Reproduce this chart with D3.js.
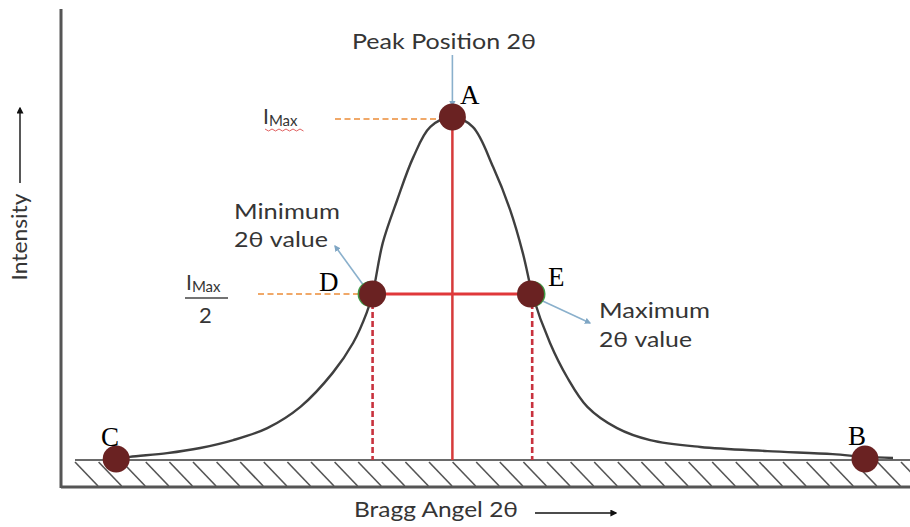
<!DOCTYPE html>
<html>
<head>
<meta charset="utf-8">
<script src="https://cdn.jsdelivr.net/npm/d3@7/dist/d3.min.js"></script>
<style>
  html, body { margin: 0; padding: 0; background: #fff; }
  svg { display: block; }
  .lbl { font-family: Lato, "Open Sans", sans-serif; fill: #353535; }
  .pt { font-family: "Liberation Serif", "DejaVu Serif", serif; fill: #000; }
</style>
</head>
<body>
<svg id="chart" width="910" height="527"></svg>
<script>
// Diffraction peak profile: Bragg angle 2θ (arbitrary units) vs. intensity (% of Imax)
const twoTheta = [6.5, 8.1, 12.5, 16.4, 20.3, 24.3, 28.2, 32.0, 34.4, 36.0, 36.7, 37.9, 39.6, 41.5, 43.5, 46.1,
                  48.5, 50.9, 52.9, 54.4, 55.2, 55.5, 57.6, 59.6, 62.0, 65.5, 69.4, 75.3, 83.2, 90.9, 94.7, 98.0];
const intensity = [0.3, 0.9, 2.0, 3.5, 5.8, 9.3, 15.5, 25.4, 34.1, 42.9, 48.4, 63.3, 75.8, 88.3, 97.1, 100,
                   97.1, 85.4, 72.9, 60.3, 51.6, 48.4, 34.1, 24.2, 15.5, 9.3, 5.8, 3.8, 2.6, 1.7, 0.9, 0.6];

// Marked points on the profile
const pointNames = ["A", "B", "C", "D", "E"];
const pointTheta = [46.1, 94.7, 6.5, 36.7, 55.3];
const pointIntensity = [100, 0.3, 0.3, 48.4, 48.4];

const peakTheta = 46.1;
const halfMax = 48.4;
const fwhmLow = 36.7, fwhmHigh = 55.5;

const svg = d3.select("#chart");
const x = d3.scaleLinear().domain([0, 100]).range([61, 910]);
const y = d3.scaleLinear().domain([0, 100]).range([460, 117]);

// Axes frame: vertical intensity axis and bottom line
svg.append("line").attr("x1", x(0)).attr("x2", x(0)).attr("y1", 9).attr("y2", 488)
  .attr("stroke", "#555").attr("stroke-width", 3);
svg.append("line").attr("x1", x(0)).attr("x2", 910).attr("y1", 487).attr("y2", 487)
  .attr("stroke", "#555").attr("stroke-width", 3);

// Hatched baseline strip
const hatch = svg.append("g").attr("stroke", "#555").attr("stroke-width", 1.6);
hatch.append("line").attr("x1", 75).attr("x2", 910).attr("y1", y(0)).attr("y2", y(0))
  .attr("stroke", "#6a6a6a").attr("stroke-width", 2);
d3.range(75, 910, 23.6).forEach(h => {
  hatch.append("line").attr("x1", h).attr("y1", y(0) + 2).attr("x2", h + 23).attr("y2", 486);
});

// Orange guide lines for Imax and Imax/2
svg.append("line").attr("x1", 335).attr("x2", x(peakTheta) - 12).attr("y1", 119).attr("y2", 119)
  .attr("stroke", "#f0a868").attr("stroke-width", 2.2).attr("stroke-dasharray", "6,3.5");
svg.append("line").attr("x1", 258).attr("x2", x(fwhmLow) - 8).attr("y1", y(halfMax)).attr("y2", y(halfMax))
  .attr("stroke", "#f0a868").attr("stroke-width", 2.2).attr("stroke-dasharray", "6,3.5");

// Red construction lines
svg.append("line").attr("x1", x(peakTheta)).attr("x2", x(peakTheta)).attr("y1", y(100)).attr("y2", y(0))
  .attr("stroke", "#d63a3a").attr("stroke-width", 2.5);
svg.append("line").attr("x1", x(fwhmLow)).attr("x2", x(fwhmHigh)).attr("y1", y(halfMax)).attr("y2", y(halfMax))
  .attr("stroke", "#e0383a").attr("stroke-width", 3.2);
[fwhmLow, fwhmHigh].forEach(t => {
  svg.append("line").attr("x1", x(t)).attr("x2", x(t)).attr("y1", y(halfMax)).attr("y2", y(0))
    .attr("stroke", "#c8323e").attr("stroke-width", 2.6).attr("stroke-dasharray", "6,3");
});

// Peak profile
const profile = twoTheta.map((t, i) => [t, intensity[i]]);
svg.append("path").datum(profile)
  .attr("d", d3.line().x(d => x(d[0])).y(d => y(d[1])).curve(d3.curveCatmullRom.alpha(0.5)))
  .attr("fill", "none").attr("stroke", "#3f3f3f").attr("stroke-width", 2.4);

// Blue pointer arrows
const defs = svg.append("defs");
defs.append("marker").attr("id", "blueHead").attr("viewBox", "0 0 10 10")
  .attr("refX", 8).attr("refY", 5).attr("markerWidth", 4).attr("markerHeight", 4).attr("orient", "auto")
  .append("path").attr("d", "M0,0 L10,5 L0,10 Z").attr("fill", "#7fa6c4");
defs.append("marker").attr("id", "blackHead").attr("viewBox", "0 0 10 10")
  .attr("refX", 8).attr("refY", 5).attr("markerWidth", 5).attr("markerHeight", 5).attr("orient", "auto")
  .append("path").attr("d", "M0,0 L10,5 L0,10 Z").attr("fill", "#111");

const arrow = (x1, y1, x2, y2) => svg.append("line")
  .attr("x1", x1).attr("y1", y1).attr("x2", x2).attr("y2", y2)
  .attr("stroke", "#8ab0cc").attr("stroke-width", 1.6).attr("marker-end", "url(#blueHead)");
arrow(x(peakTheta), 55, x(peakTheta), 106);
arrow(x(fwhmLow) - 10, y(halfMax) - 10, 335, 246);
arrow(x(55.3) + 10, y(halfMax) + 6, 590, 323);

// Marked points
pointNames.forEach((n, i) => {
  const cx = x(pointTheta[i]), cy = y(pointIntensity[i]);
  if (n === "D" || n === "E") {
    svg.append("circle").attr("cx", cx + (n === "E" ? 2 : -2)).attr("cy", cy).attr("r", 13)
      .attr("fill", "#3f9a45");
  }
  svg.append("circle").attr("cx", cx).attr("cy", cy).attr("r", 13.5).attr("fill", "#6a2222");
});

// Point letters
const letterPos = { A: [460, 104], B: [848, 445], C: [101, 446], D: [319, 291], E: [548, 286] };
pointNames.forEach(n => {
  svg.append("text").attr("class", "pt").attr("x", letterPos[n][0]).attr("y", letterPos[n][1])
    .attr("font-size", 27).text(n);
});

// Annotation text
const label = (tx, ty, s, size) => svg.append("text").attr("class", "lbl")
  .attr("x", tx).attr("y", ty).attr("font-size", size || 22).text(s);
const fit = (sel, len) => sel.attr("textLength", len).attr("lengthAdjust", "spacingAndGlyphs");
fit(label(352, 49, "Peak Position 2θ"), 184);
fit(label(234, 219, "Minimum"), 106);
fit(label(234, 247, "2θ value"), 94);
fit(label(599, 318, "Maximum"), 111);
fit(label(599, 347, "2θ value"), 93);

// Imax label with spell-check underline
const imax = svg.append("text").attr("class", "lbl").attr("x", 263).attr("y", 124).attr("font-size", 21);
imax.append("tspan").text("I");
imax.append("tspan").attr("font-size", 15).attr("dy", 2).text("Max");
svg.append("path")
  .attr("d", d3.range(0, 12).map(k => (k ? "L" : "M") + (265 + k * 3.5) + "," + (129 + (k % 2 ? 2 : 0))).join(""))
  .attr("fill", "none").attr("stroke", "#e06060").attr("stroke-width", 1);

// Imax / 2 fraction
const frac = svg.append("text").attr("class", "lbl").attr("x", 186).attr("y", 290).attr("font-size", 21);
frac.append("tspan").text("I");
frac.append("tspan").attr("font-size", 15).attr("dy", 2).text("Max");
svg.append("line").attr("x1", 185).attr("x2", 228).attr("y1", 298).attr("y2", 298)
  .attr("stroke", "#444").attr("stroke-width", 1.6);
label(199, 323, "2", 22);

// Axis titles with arrows
fit(svg.append("text").attr("class", "lbl").attr("transform", "translate(27,237) rotate(-90)")
  .attr("text-anchor", "middle").attr("font-size", 21).text("Intensity"), 87);
svg.append("line").attr("x1", 20).attr("x2", 20).attr("y1", 183).attr("y2", 108)
  .attr("stroke", "#111").attr("stroke-width", 1.4).attr("marker-end", "url(#blackHead)");
fit(label(354, 517, "Bragg Angel 2θ"), 164);
svg.append("line").attr("x1", 535).attr("x2", 616).attr("y1", 513).attr("y2", 513)
  .attr("stroke", "#111").attr("stroke-width", 1.4).attr("marker-end", "url(#blackHead)");
</script>
</body>
</html>
